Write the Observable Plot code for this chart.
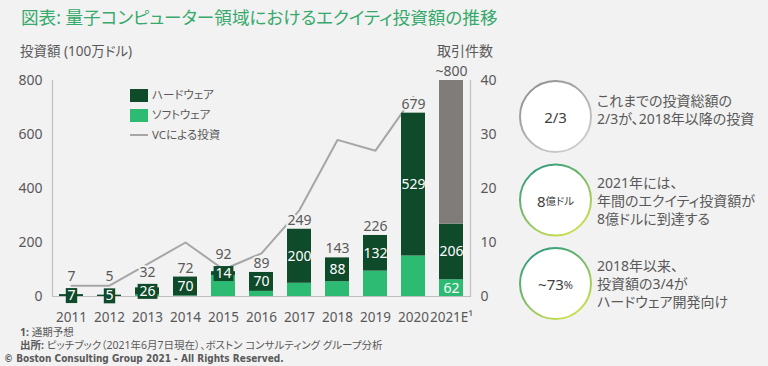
<!DOCTYPE html>
<html><head><meta charset="utf-8">
<script src="https://cdn.jsdelivr.net/npm/d3@7"></script>
<script src="https://cdn.jsdelivr.net/npm/@observablehq/plot@0.6"></script>
<style>
body{margin:0;background:#f2f2f2;}
#wrap{position:relative;width:768px;height:366px;overflow:hidden;font-family:"Noto Sans","Noto Sans CJK JP",sans-serif;color:#595959;}
.abs{position:absolute;white-space:nowrap;line-height:1;}
.jp{font-feature-settings:"palt";}
.leg{display:flex;align-items:center;height:14px;font-size:11.5px;}
.sw{width:18px;height:13px;margin-right:4px;box-sizing:border-box;}
.note{font-size:14px;line-height:18px;}
</style></head><body>
<div id="wrap">
  <div id="chart" class="abs" style="left:0;top:0"></div>
  <div class="abs jp" style="left:21px;top:9px;font-size:17.6px;color:#36a96c;">図表: 量子コンピューター領域におけるエクイティ投資額の推移</div>
  <div class="abs jp" style="left:20px;top:45px;font-size:13.5px;">投資額 (100万ドル)</div>
  <div class="abs jp" style="left:437px;top:44px;font-size:14px;">取引件数</div>

  <div class="abs jp" style="left:130px;top:88px;">
    <div class="leg"><div class="sw" style="background:#0f4a2b"></div>ハードウェア</div>
    <div class="leg" style="margin-top:6px"><div class="sw" style="background:#2dba73"></div>ソフトウェア</div>
    <div class="leg" style="margin-top:6px"><div style="width:18px;height:2px;background:#a6a6a6;margin-right:4px"></div>VCによる投資</div>
  </div>

  <div class="abs jp" style="left:20px;top:327px;font-size:10.5px;"><b>1:</b> 通期予想</div>
  <div class="abs jp" style="left:20px;top:340px;font-size:10.5px;"><b>出所:</b> ピッチブック（2021年6月7日現在）、ボストン コンサルティング グループ分析</div>
  <div class="abs" style="left:4px;top:354px;font-size:10px;font-weight:bold;font-family:'DejaVu Sans Condensed','DejaVu Sans',sans-serif;">© Boston Consulting Group 2021 - All Rights Reserved.</div>

  <svg class="abs" style="left:0;top:0;overflow:visible" width="768" height="366">
    <defs>
      <linearGradient id="gGrey" x1="0.15" y1="0" x2="0.85" y2="1">
        <stop offset="0" stop-color="#8e8e8e"/><stop offset="1" stop-color="#d2d2d2"/>
      </linearGradient>
      <linearGradient id="gGreen" x1="0.2" y1="0" x2="0.8" y2="1">
        <stop offset="0" stop-color="#2f9b7e"/><stop offset="1" stop-color="#d4e24a"/>
      </linearGradient>
    </defs>
    <circle cx="555.5" cy="116.5" r="35.5" fill="#ffffff" stroke="url(#gGrey)" stroke-width="2"/>
    <circle cx="555.5" cy="200" r="35.5" fill="#ffffff" stroke="url(#gGreen)" stroke-width="2"/>
    <circle cx="555.5" cy="283.5" r="35.5" fill="#ffffff" stroke="url(#gGreen)" stroke-width="2"/>
    <g font-family="Noto Sans, Noto Sans CJK JP, sans-serif" fill="#404040" text-anchor="middle" dominant-baseline="central">
      <text x="555.5" y="117" font-size="15">2/3</text>
      <text x="555.5" y="200.5"><tspan font-size="15">8</tspan><tspan font-size="10.5" style="font-feature-settings:'palt'">億ドル</tspan></text>
      <text x="555.5" y="284"><tspan font-size="15">~73</tspan><tspan font-size="11">%</tspan></text>
    </g>
  </svg>

  <div class="abs jp note" style="left:597px;top:92px;">これまでの投資総額の<br>2/3が、2018年以降の投資</div>
  <div class="abs jp note" style="left:597px;top:174px;">2021年には、<br>年間のエクイティ投資額が<br>8億ドルに到達する</div>
  <div class="abs jp note" style="left:597px;top:257px;">2018年以来、<br>投資額の3/4が<br>ハードウェア開発向け</div>
</div>
<script>
// ---- data ----
const years = ["2011","2012","2013","2014","2015","2016","2017","2018","2019","2020","2021E"];
const hardware = [7, 5, 26, 70, 14, 70, 200, 88, 132, 529, 206];
const software = [0, 0, 6, 2, 78, 19, 49, 55, 94, 150, 62];
const unsplit = [0, 0, 0, 0, 0, 0, 0, 0, 0, 0, 532];
const totals = [7, 5, 32, 72, 92, 89, 249, 143, 226, 679, 800];
const totalLabels = ["7","5","32","72","92","89","249","143","226","679","~800"];
const dealCounts = [2, 2, 6, 10, 5, 8, 16, 29, 27, 37, null];
const yTicks = [0, 200, 400, 600, 800];
const seriesNames = ["ソフトウェア", "ハードウェア", "内訳未定"];
const seriesColors = ["#2dba73", "#0f4a2b", "#7f7c7a"];

// ---- derived tables ----
const dealScale = 800 / 40; // right axis 0–40 mapped onto left axis 0–800
const rows = years.map((year, i) => ({
  year, hardware: hardware[i], software: software[i], unsplit: unsplit[i],
  total: totals[i], label: totalLabels[i], deals: dealCounts[i]
}));
const stacked = rows.flatMap(r => [
  {year: r.year, series: seriesNames[0], value: r.software},
  {year: r.year, series: seriesNames[1], value: r.hardware},
  {year: r.year, series: seriesNames[2], value: r.unsplit}
]);
const hwMid = d => d.software + d.hardware / 2;

// rectangular label background (half-width = r)
const labelBox = {
  draw(ctx, size) {
    const w = Math.sqrt(size / Math.PI);
    ctx.moveTo(-w, -7.5); ctx.lineTo(w, -7.5); ctx.lineTo(w, 7.5); ctx.lineTo(-w, 7.5); ctx.closePath();
  }
};

const font = "'Noto Sans','Noto Sans CJK JP',sans-serif";
const chart = Plot.plot({
  width: 768, height: 366,
  marginTop: 80, marginBottom: 70, marginLeft: 52, marginRight: 298,
  style: {background: "transparent", fontFamily: font, fontSize: "13.5px", color: "#595959", overflow: "visible"},
  x: {domain: years, paddingInner: 0.37, paddingOuter: 0.185, label: null},
  y: {domain: [0, 800], label: null},
  color: {domain: seriesNames, range: seriesColors},
  r: {type: "identity"},
  marks: [
    Plot.lineY(rows.filter(d => d.deals != null), {x: "year", y: d => d.deals * dealScale, stroke: "#a6a6a6", strokeWidth: 2}),
    Plot.barY(stacked, Plot.stackY({x: "year", y: "value", fill: "series", order: seriesNames})),
    Plot.ruleY([0], {stroke: "#bfbfbf", strokeWidth: 1.2}),
    Plot.frame({anchor: "left", stroke: "#bfbfbf", strokeWidth: 1.2}),
    Plot.frame({anchor: "right", stroke: "#bfbfbf", strokeWidth: 1.2}),
    Plot.axisY({ticks: yTicks, tickSize: 0, tickPadding: 10, label: null, fontSize: 14}),
    Plot.axisY({anchor: "right", ticks: yTicks, tickFormat: d => d / dealScale, tickSize: 0, tickPadding: 10, label: null, fontSize: 14}),
    Plot.axisX({tickSize: 0, tickPadding: 16, label: null, fontSize: 13.5, tickFormat: d => d === "2021E" ? "2021E¹" : d}),
    Plot.dot(rows.filter(d => d.hardware < 50), {x: "year", y: hwMid, r: d => String(d.hardware).length * 4.2 + 1.5, symbol: labelBox, fill: seriesColors[1], stroke: "none"}),
    Plot.text(rows, {x: "year", y: hwMid, text: d => String(d.hardware), fill: "white", fontSize: 14}),
    Plot.text(rows.filter(d => d.year === "2021E"), {x: "year", y: d => d.software / 2, text: d => String(d.software), fill: "white", fontSize: 14}),
    Plot.text(rows.filter(d => d.hardware >= 50), {x: "year", y: "total", text: "label", dy: -9, fill: "#595959", stroke: "#f2f2f2", strokeWidth: 4, fontSize: 14}),
    Plot.text(rows.filter(d => d.hardware < 50), {x: "year", y: hwMid, text: "label", dy: -19, fill: "#595959", stroke: "#f2f2f2", strokeWidth: 4, fontSize: 14})
  ]
});
document.getElementById("chart").appendChild(chart);
</script>
</body></html>
